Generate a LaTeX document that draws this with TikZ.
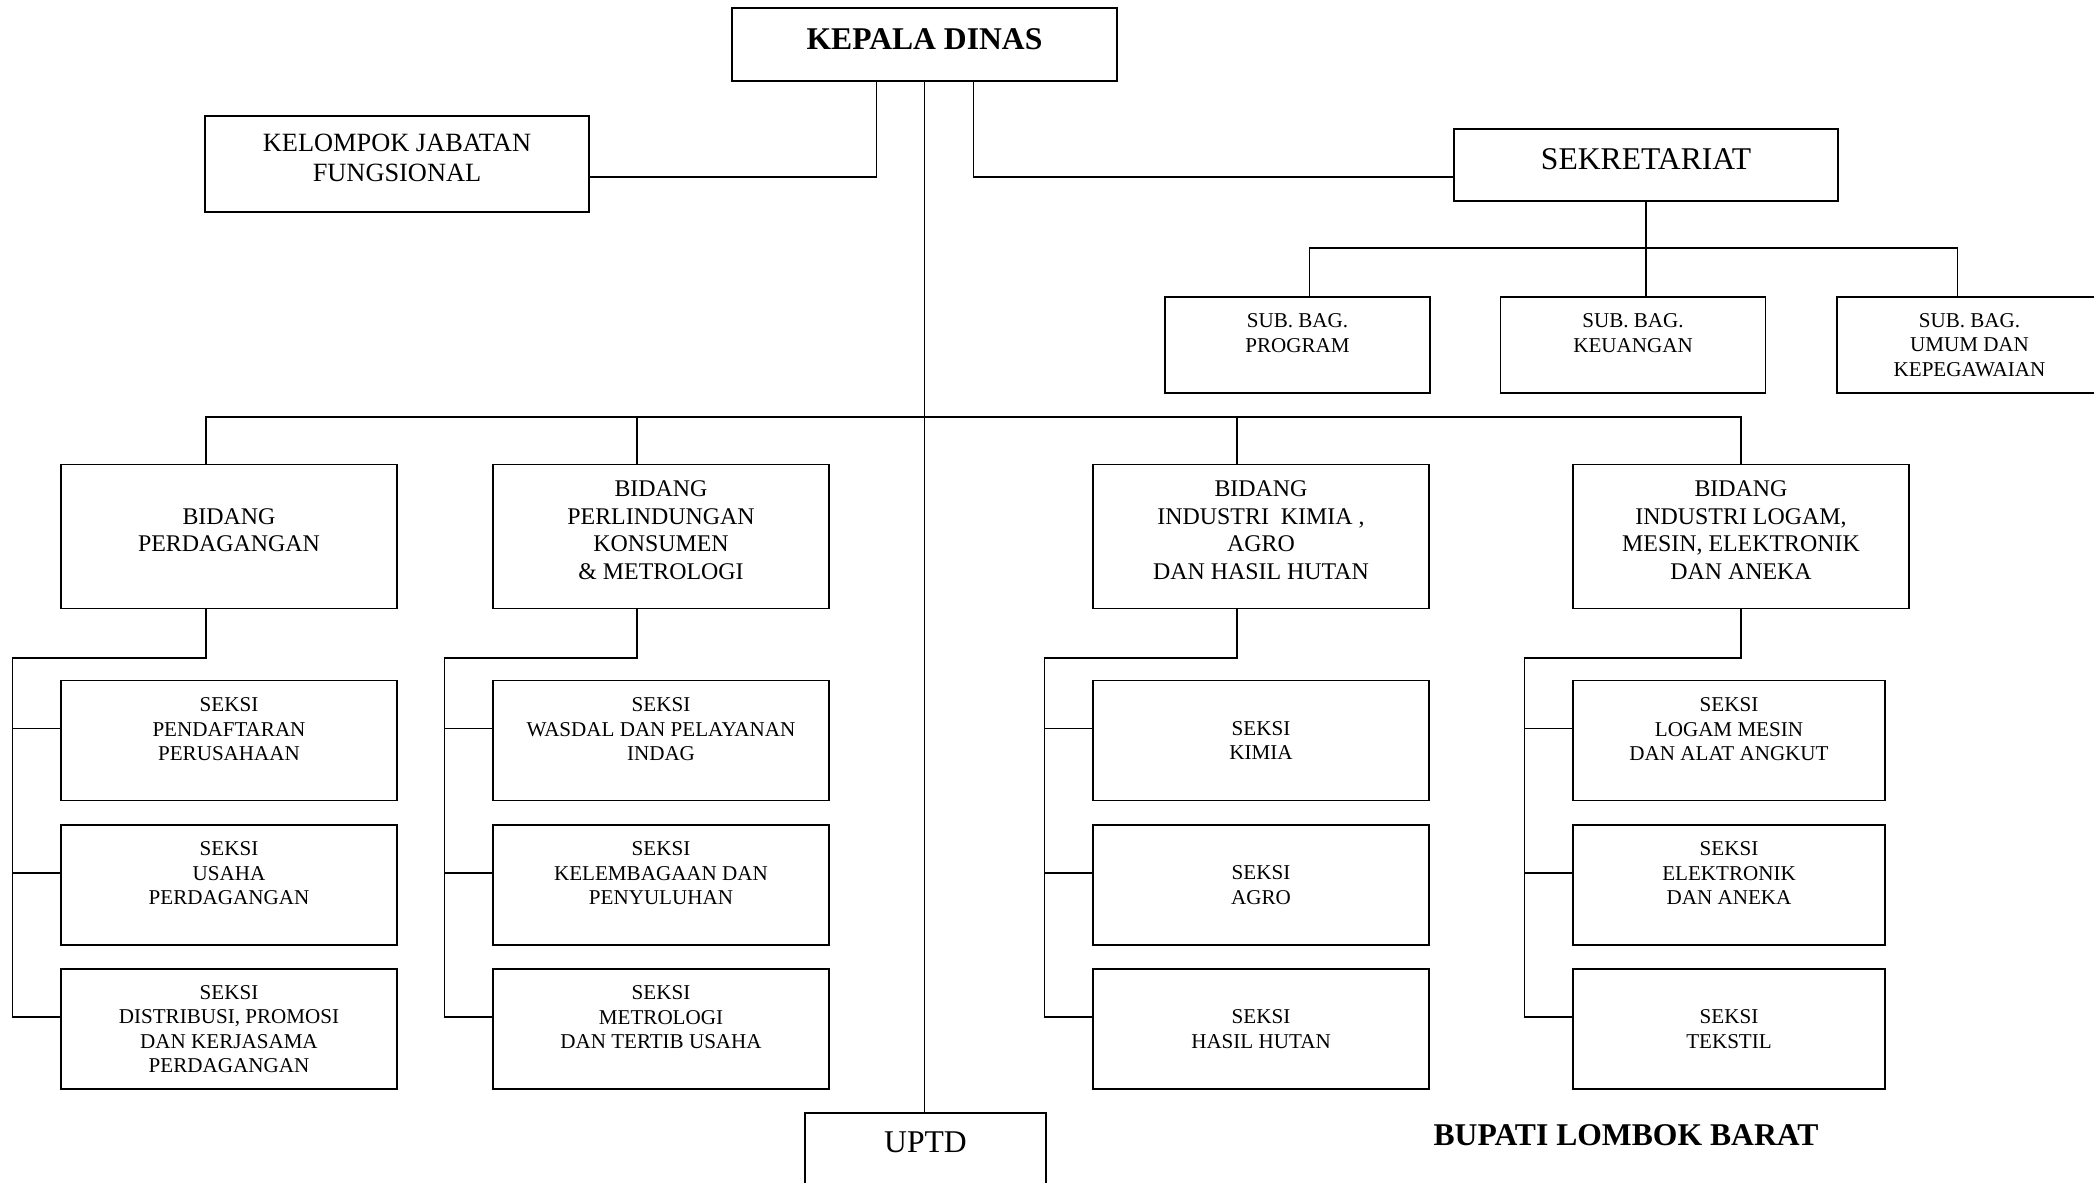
\documentclass[tikz,border=0pt]{standalone}
\usepackage{fontspec}
\setmainfont{Liberation Serif}
\usetikzlibrary{calc}

\begin{document}
\begin{tikzpicture}[x=0.2mm, y=-0.2mm, line width=0.8pt,
        unit/.style={draw, align=center, inner sep=0pt, text depth=0pt},
        head/.style={unit, minimum width=77mm, minimum height=14.6mm, font=\fontsize{18}{21}\selectfont\bfseries, text depth=2.3mm},
        staff/.style={unit, minimum width=76.8mm, minimum height=19.2mm, font=\fontsize{15}{17.1}\selectfont, text depth=2.4mm},
        secr/.style={unit, minimum width=76.8mm, minimum height=14.4mm, font=\fontsize{18}{21}\selectfont, text depth=2.4mm},
        subbag/.style={unit, minimum width=53mm, minimum height=19.2mm, font=\fontsize{12}{13.8}\selectfont, text depth=4.8mm},
        bidang/.style={unit, minimum width=67.2mm, minimum height=28.8mm, font=\fontsize{13.6}{15.9}\selectfont, text depth=2.6mm},
        seksi/.style={unit, minimum width=#1, minimum height=24mm, font=\fontsize{12}{13.9}\selectfont},
        seksi/.default=67.2mm,
        raised/.style={text depth=4.6mm},
        uptd/.style={unit, minimum width=48.2mm, minimum height=17.4mm, font=\fontsize{18}{21}\selectfont, text depth=5.6mm}]
    \useasboundingbox (0,0) rectangle (2094,1182);

    % top
    \node[head] (kepala) at (924.5,44.7) {KEPALA DINAS};
    \node[staff] (kelompok) at (397,164) {KELOMPOK JABATAN\\FUNGSIONAL};
    \node[secr] (sek) at (1646,165) {SEKRETARIAT};
    \node[subbag] (prog) at (1297.5,345) {SUB. BAG.\\PROGRAM};
    \node[subbag] (keu) at (1633,345) {SUB. BAG.\\KEUANGAN};
    \node[subbag, text depth=0pt] (umum) at (1969.5,345) {SUB. BAG.\\UMUM DAN\\KEPEGAWAIAN};

    % bidang
    \node[bidang] (b1) at (229,536.6) {BIDANG\\PERDAGANGAN};
    \node[bidang] (b2) at (661,536.6) {BIDANG\\PERLINDUNGAN\\KONSUMEN\\\& METROLOGI};
    \node[bidang] (b3) at (1261,536.6) {BIDANG\\INDUSTRI\ \ KIMIA ,\\AGRO\\DAN HASIL HUTAN};
    \node[bidang] (b4) at (1741,536.6) {BIDANG\\INDUSTRI LOGAM,\\MESIN, ELEKTRONIK\\DAN ANEKA};

    % seksi
    \node[seksi, raised] (s11) at (229,740.6) {SEKSI\\PENDAFTARAN\\PERUSAHAAN};
    \node[seksi, raised] (s12) at (229,884.8) {SEKSI\\USAHA\\PERDAGANGAN};
    \node[seksi] (s13) at (229,1028.8) {SEKSI\\DISTRIBUSI, PROMOSI\\DAN KERJASAMA\\PERDAGANGAN};
    \node[seksi, raised] (s21) at (661,740.6) {SEKSI\\WASDAL DAN PELAYANAN\\INDAG};
    \node[seksi, raised] (s22) at (661,884.8) {SEKSI\\KELEMBAGAAN DAN\\PENYULUHAN};
    \node[seksi, raised] (s23) at (661,1028.8) {SEKSI\\METROLOGI\\DAN TERTIB USAHA};
    \node[seksi] (s31) at (1261,740.6) {SEKSI\\KIMIA};
    \node[seksi] (s32) at (1261,884.8) {SEKSI\\AGRO};
    \node[seksi] (s33) at (1261,1028.8) {SEKSI\\HASIL HUTAN};
    \node[seksi=62.4mm, raised] (s41) at (1729,740.6) {SEKSI\\LOGAM MESIN\\DAN ALAT ANGKUT};
    \node[seksi=62.4mm, raised] (s42) at (1729,884.8) {SEKSI\\ELEKTRONIK\\DAN ANEKA};
    \node[seksi=62.4mm] (s43) at (1729,1028.8) {SEKSI\\TEKSTIL};

    \node[uptd] (uptd) at (925.5,1156.5) {UPTD};
    \node[font=\fontsize{18}{21}\selectfont\bfseries, inner sep=0pt, text depth=0pt] (bupati) at (1626,1135) {BUPATI LOMBOK BARAT};

    % lines
    \coordinate (sekbus) at (1646,248);
    \coordinate (mainbus) at (925.5,417);
    \draw (kepala.south) -- (kepala.south |- uptd.north);
    \draw ($(kepala.south)+(-48,0)$) |- ($(kelompok.east)+(0,13)$);
    \draw ($(kepala.south)+(49,0)$) |- ($(sek.west)+(0,12)$);
    \draw (sek.south) -- (sek.south |- keu.north);
    \draw ($(prog.north)+(12,0)$) |- (sekbus) -| ($(umum.north)+(-12,0)$);
    \foreach \c/\dx in {1/-23,2/-24,3/-24,4/0}
    {
        \draw ($(b\c.north)+(\dx,0)$) |- (mainbus);
        \draw ($(b\c.south)+(\dx,0)$) -- ++(0,48.5) -| ($(s\c3.west)+(-48,-12)$) -- ($(s\c3.west)+(0,-12)$);
        \foreach \r in {1,2}
            \draw ($(s\c\r.west)+(-48,-12)$) -- ($(s\c\r.west)+(0,-12)$);
    }
\end{tikzpicture}
\end{document}
